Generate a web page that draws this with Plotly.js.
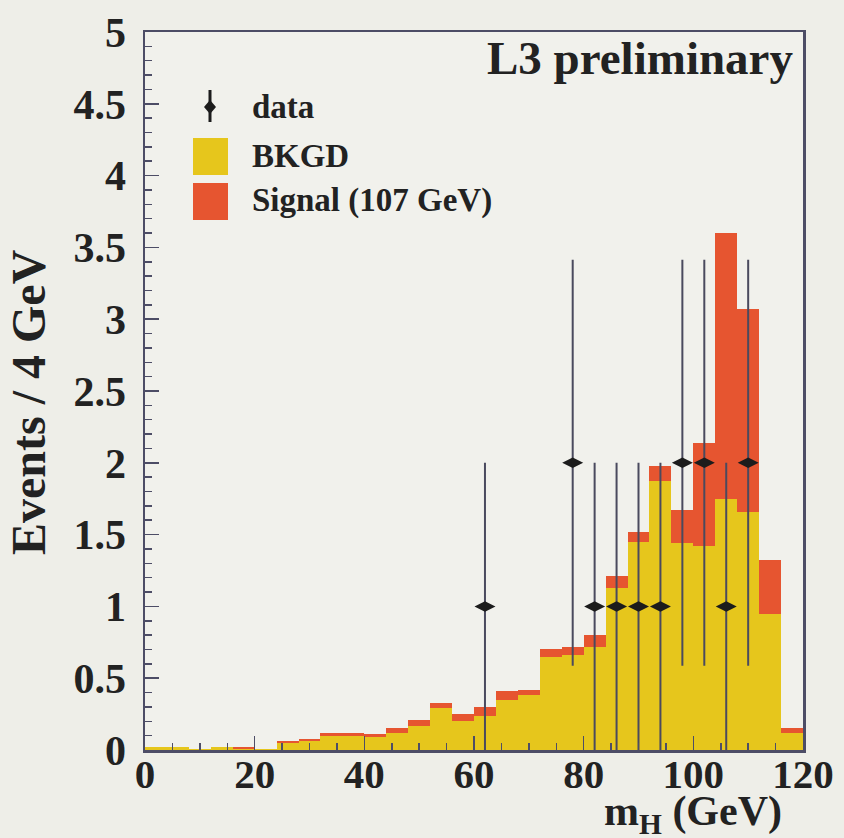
<!DOCTYPE html>
<html>
<head>
<meta charset="utf-8">
<script src="https://cdn.plot.ly/plotly-3.0.1.min.js"></script>
<style>html,body{margin:0;padding:0;background:#eeeee8;}#chart{width:844px;height:838px;}</style>
</head>
<body>
<div id="chart"></div>
<script>
// Bin centres (4 GeV bins from 0 to 120)
const binCenters = [2,6,10,14,18,22,26,30,34,38,42,46,50,54,58,62,66,70,74,78,82,86,90,94,98,102,106,110,114,118];
// Background (BKGD) expectation per bin
const bkgd = [0.02,0.02,0.01,0.02,0.01,0.01,0.05,0.06,0.10,0.10,0.09,0.12,0.17,0.29,0.20,0.24,0.35,0.38,0.65,0.66,0.72,1.13,1.45,1.87,1.44,1.42,1.75,1.66,0.95,0.12];
// Signal (107 GeV) stacked on top of background
const signal = [0.00,0.00,0.00,0.00,0.01,0.00,0.01,0.02,0.02,0.02,0.02,0.03,0.04,0.04,0.05,0.06,0.06,0.04,0.05,0.06,0.08,0.08,0.07,0.11,0.23,0.72,1.85,1.41,0.37,0.03];
// Observed data
const dataX = [62,78,82,86,90,94,98,102,106,110];
const dataY = [1,2,1,1,1,1,2,2,1,2];
const dataErr = [1,1.414,1,1,1,1,1.414,1.414,1,1.414];
const xTicks = [0,20,40,60,80,100,120];
const yTicks = [0,0.5,1,1.5,2,2.5,3,3.5,4,4.5,5];

const serif = 'Liberation Serif, Times New Roman, serif';
const axisColor = '#4d4d66';
const yellow = '#e6c61c';
const red = '#e65530';

const traces = [
  {type:'bar', x:binCenters, y:bkgd, width:4, marker:{color:yellow, line:{width:0}}, name:'BKGD', showlegend:false, hoverinfo:'skip'},
  {type:'bar', x:binCenters, y:signal, width:4, marker:{color:red, line:{width:0}}, name:'Signal (107 GeV)', showlegend:false, hoverinfo:'skip'},
  {type:'scatter', mode:'markers', x:dataX, y:dataY,
   error_y:{type:'data', array:dataErr, visible:true, color:'#4a4a5e', thickness:2, width:0},
   marker:{symbol:'diamond-wide', size:15, color:'#1c1c1c'}, name:'data', showlegend:false, hoverinfo:'skip'}
];

const layout = {
  width:844, height:838,
  margin:{l:145, r:41, t:32, b:88},
  paper_bgcolor:'#eeeee8', plot_bgcolor:'#f1f1ec',
  barmode:'stack', bargap:0,
  showlegend:false,
  xaxis:{
    range:[0,120], tickvals:xTicks, ticktext:xTicks.map(String),
    ticks:'inside', ticklen:14, tickwidth:1.5, tickcolor:axisColor,
    minor:{dtick:5, tick0:0, ticks:'inside', ticklen:7, tickcolor:axisColor, tickwidth:1.5},
    showline:true, mirror:true, linecolor:axisColor, linewidth:2.5,
    showgrid:false, zeroline:false,
    tickfont:{family:serif, size:41, color:'#222222', weight:'bold'},
    ticklabelstandoff:-14
  },
  yaxis:{
    range:[0,5], tickvals:yTicks, ticktext:yTicks.map(String),
    ticks:'inside', ticklen:14, tickwidth:1.5, tickcolor:axisColor,
    minor:{dtick:0.1, tick0:0, ticks:'inside', ticklen:7, tickcolor:axisColor, tickwidth:1.5},
    showline:true, mirror:true, linecolor:axisColor, linewidth:2.5,
    showgrid:false, zeroline:false,
    tickfont:{family:serif, size:42, color:'#222222', weight:'bold'},
    ticklabelstandoff:8
  },
  shapes:[
    // legend swatches
    {type:'rect', xref:'paper', yref:'paper', x0:(193-145)/658, x1:(228-145)/658, y0:(750-175)/718, y1:(750-138)/718, fillcolor:yellow, line:{width:0}},
    {type:'rect', xref:'paper', yref:'paper', x0:(193-145)/658, x1:(228-145)/658, y0:(750-220)/718, y1:(750-183)/718, fillcolor:red, line:{width:0}},
    {type:'line', xref:'paper', yref:'paper', x0:(210-145)/658, x1:(210-145)/658, y0:(750-122)/718, y1:(750-90)/718, line:{color:'#1c1c1c', width:3}},
    {type:'path', xref:'paper', yref:'paper',
     path:'M '+((204-145)/658)+' '+((750-107)/718)+' L '+((210-145)/658)+' '+((750-100)/718)+' L '+((216-145)/658)+' '+((750-107)/718)+' L '+((210-145)/658)+' '+((750-114)/718)+' Z',
     fillcolor:'#1c1c1c', line:{width:0}}
  ],
  annotations:[
    {xref:'paper', yref:'paper', x:(795-145)/658, y:(750-58)/718, xanchor:'right', yanchor:'middle', showarrow:false,
     text:'L3 preliminary', font:{family:serif, size:47, color:'#222222', weight:'bold'}},
    {xref:'paper', yref:'paper', x:(250-145)/658, y:(750-107)/718, xanchor:'left', yanchor:'middle', showarrow:false,
     text:'data', font:{family:serif, size:33, color:'#222222', weight:'bold'}},
    {xref:'paper', yref:'paper', x:(250-145)/658, y:(750-156)/718, xanchor:'left', yanchor:'middle', showarrow:false,
     text:'BKGD', font:{family:serif, size:33, color:'#222222', weight:'bold'}},
    {xref:'paper', yref:'paper', x:(250-145)/658, y:(750-200)/718, xanchor:'left', yanchor:'middle', showarrow:false,
     text:'Signal (107 GeV)', font:{family:serif, size:33, color:'#222222', weight:'bold'}},
    {xref:'paper', yref:'paper', x:(28-145)/658, y:(750-402)/718, xanchor:'center', yanchor:'middle', showarrow:false, textangle:-90,
     text:'Events / 4 GeV', font:{family:serif, size:48, color:'#222222', weight:'bold'}},
    {xref:'paper', yref:'paper', x:(784-145)/658, y:(750-814)/718, xanchor:'right', yanchor:'middle', showarrow:false,
     text:'m<sub>H</sub> (GeV)', font:{family:serif, size:42, color:'#222222', weight:'bold'}}
  ]
};

Plotly.newPlot('chart', traces, layout, {displayModeBar:false, staticPlot:true});
</script>
</body>
</html>
